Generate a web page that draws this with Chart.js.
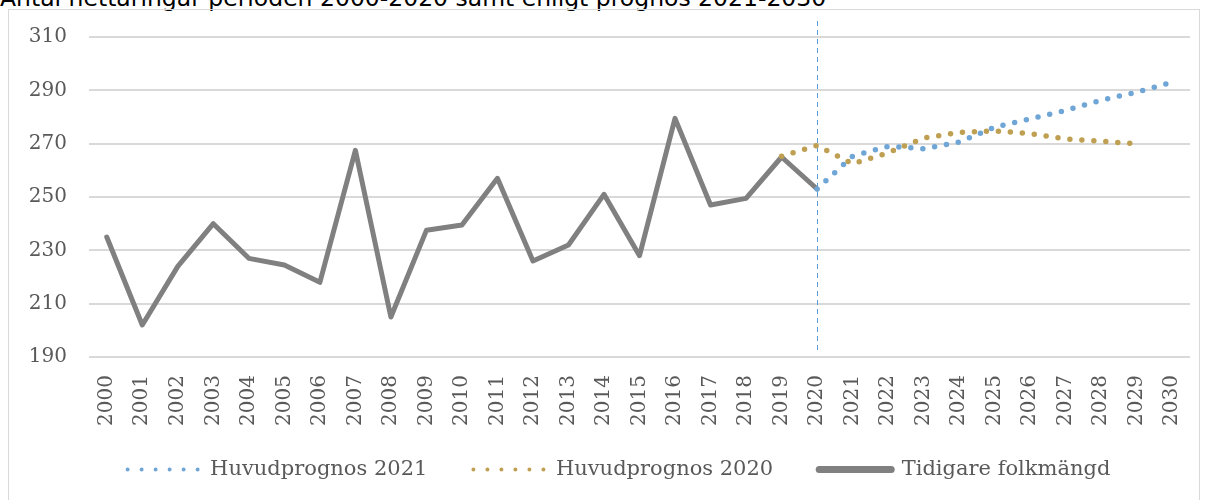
<!DOCTYPE html>
<html lang="sv">
<head>
<meta charset="UTF-8">
<title>Huvudprognos</title>
<style>
  body { margin: 0; background: #fff; width: 1208px; height: 500px; overflow: hidden; position: relative; }
  .title { position: absolute; left: 0; top: -16px; font-family: "DejaVu Sans", sans-serif; font-size: 23.5px; color: #000; white-space: nowrap; }
  .frame { position: absolute; left: 8px; top: 9px; width: 1190px; height: 530px; border: 1px solid #d9d9d9; }
  .chart-box { position: absolute; left: 0; top: 0; width: 1208px; height: 500px; }
</style>
<script src="https://cdn.jsdelivr.net/npm/chart.js"></script>
</head>
<body>
<div class="title">Antal nettaringar perioden 2000-2020 samt enligt prognos 2021-2030</div>
<div class="frame"></div>
<div class="chart-box"><canvas id="chart"></canvas></div>
<script>
const years = ['2000','2001','2002','2003','2004','2005','2006','2007','2008','2009','2010',
  '2011','2012','2013','2014','2015','2016','2017','2018','2019','2020',
  '2021','2022','2023','2024','2025','2026','2027','2028','2029','2030'];

// Tidigare folkmängd, 2000-2020
const history = [235, 202, 224, 240, 227, 224.5, 218, 267.5, 205, 237.5, 239.5,
  257, 226, 232, 251, 228, 279.5, 247, 249.5, 265, 253];
// Huvudprognos 2021, 2020-2030
const prognos2021 = [253, 265.3, 269, 268.1, 270.6, 276.2, 279.3, 282.5, 286.3, 289.3, 293];
// Huvudprognos 2020, 2019-2029
const prognos2020 = [265.3, 269.3, 262.4, 266.6, 272.1, 274.2, 274.8, 273.8, 271.8, 270.9, 270];

const splitYear = '2020';
const yTicks = [190, 210, 230, 250, 270, 290, 310];

function place(values, startYear) {
  const out = years.map(() => null);
  const start = years.indexOf(startYear);
  values.forEach((v, i) => { out[start + i] = v; });
  return out;
}

const textColor = '#595959';
const serif = '"DejaVu Serif", serif';

// dashed vertical line at the last observed year
const markerLine = {
  id: 'markerLine',
  beforeDatasetsDraw(chart) {
    const ctx = chart.ctx;
    const x = Math.round(chart.scales.x.getPixelForValue(years.indexOf(splitYear))) + 0.5;
    ctx.save();
    ctx.strokeStyle = '#5b9bd5';
    ctx.lineWidth = 1;
    ctx.setLineDash([5, 4]);
    ctx.beginPath();
    ctx.moveTo(x, chart.chartArea.top - 16);
    ctx.lineTo(x, chart.chartArea.bottom - 4);
    ctx.stroke();
    ctx.restore();
  }
};

// move the legend row closer to the axis labels and a bit to the right
const legendNudge = {
  id: 'legendNudge',
  afterLayout(chart) {
    const lg = chart.legend;
    lg.top -= 20; lg.bottom -= 20;
    lg.left += 24; lg.right += 24;
  }
};

const legendStyle = {
  'Huvudprognos 2021': { lineDash: [0, 14], lineCap: 'round', lineWidth: 4 },
  'Huvudprognos 2020': { lineDash: [0, 14], lineCap: 'round', lineWidth: 4 },
  'Tidigare folkmängd': { lineDash: [], lineCap: 'round', lineWidth: 7 }
};

new Chart(document.getElementById('chart'), {
  type: 'line',
  data: {
    labels: years,
    datasets: [
      {
        label: 'Huvudprognos 2021',
        data: place(prognos2021, '2020'),
        borderColor: '#70a6d6',
        backgroundColor: '#70a6d6',
        borderWidth: 5.5,
        borderDash: [0, 12],
        borderCapStyle: 'round',
        pointRadius: 0,
        tension: 0
      },
      {
        label: 'Huvudprognos 2020',
        data: place(prognos2020, '2019'),
        borderColor: '#bf9f52',
        backgroundColor: '#bf9f52',
        borderWidth: 5.5,
        borderDash: [0, 12],
        borderCapStyle: 'round',
        pointRadius: 0,
        tension: 0
      },
      {
        label: 'Tidigare folkmängd',
        data: place(history, '2000'),
        borderColor: '#808080',
        backgroundColor: '#808080',
        borderWidth: 5,
        borderCapStyle: 'round',
        borderJoinStyle: 'round',
        pointRadius: 0,
        tension: 0
      }
    ]
  },
  options: {
    responsive: true,
    maintainAspectRatio: false,
    animation: false,
    layout: { padding: { left: 0, right: 18, top: 37, bottom: -10 } },
    plugins: {
      title: { display: false },
      tooltip: { enabled: false },
      legend: {
        position: 'bottom',
        labels: {
          usePointStyle: true,
          pointStyle: 'line',
          pointStyleWidth: 72,
          padding: 46,
          color: textColor,
          font: { family: serif, size: 21 },
          generateLabels: chart =>
            Chart.defaults.plugins.legend.labels.generateLabels(chart)
              .map(item => Object.assign(item, legendStyle[item.text]))
        }
      }
    },
    scales: {
      x: {
        offset: true,
        grid: { display: false },
        border: { display: false },
        afterFit: s => { s.height = 76; },
        ticks: {
          color: textColor,
          font: { family: serif, size: 20 },
          minRotation: 90,
          maxRotation: 90,
          autoSkip: false,
          padding: 10
        }
      },
      y: {
        min: 190,
        max: 310,
        afterFit: s => { s.width = 89; },
        afterBuildTicks: s => { s.ticks = yTicks.map(v => ({ value: v })); },
        grid: { color: '#d9d9d9', lineWidth: 2, drawTicks: false },
        border: { display: false },
        ticks: {
          color: textColor,
          font: { family: serif, size: 20 },
          padding: 22
        }
      }
    }
  },
  plugins: [markerLine, legendNudge]
});
</script>
</body>
</html>
